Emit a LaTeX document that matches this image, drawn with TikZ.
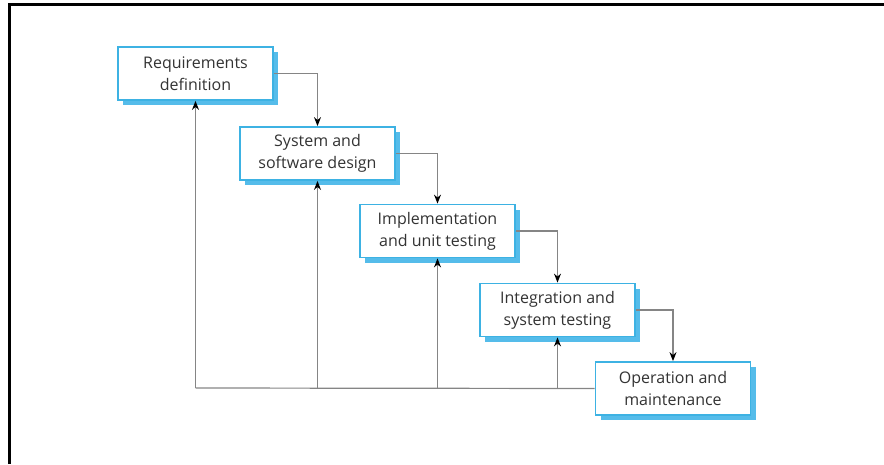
\documentclass[tikz,border=0pt]{standalone}
\usepackage{fontspec}
\setmainfont{Open Sans}
\usetikzlibrary{arrows.meta}
\usetikzlibrary{shadows}
\definecolor{phaseblue}{HTML}{3DB2E3}
\definecolor{shadeblue}{HTML}{55BCEA}
\definecolor{wiregray}{HTML}{858585}
\definecolor{textgray}{HTML}{333333}
\tikzstyle{phase}=[draw=phaseblue, line width=1.8pt, fill=white, align=center, text=textgray,
  minimum width=155pt, minimum height=53pt, font=\fontsize{16}{22}\selectfont,
  drop shadow={shadow xshift=5pt, shadow yshift=-5pt, fill=shadeblue, opacity=1}]
\tikzstyle{wire}=[draw=wiregray, line width=1.2pt]
\tikzstyle{flow}=[wire, -{Stealth[length=9pt, width=7pt, black]}]
\begin{document}
\begin{tikzpicture}[x=1pt, y=-1pt]
        \useasboundingbox (0, 0) rectangle (884, 464);
        \draw[line width=3pt] (9, 464) -- (9, 4.5) -- (884, 4.5);
        \node[phase] (req)   at (195.5, 73.5) {Requirements\\definition};
        \node[phase] (sys)   at (317.5, 153.5) {System and\\software design};
        \node[phase] (impl)  at (437.5, 231) {Implementation\\and unit testing};
        \node[phase] (integ) at (557.5, 310) {Integration and\\system testing};
        \node[phase] (oper)  at (673, 388.5) {Operation and\\maintenance};
        \coordinate (base) at (195.5, 388);
        \draw[flow] (req.east) -| (sys.north);
        \draw[flow] (sys.east) -| (impl.north);
        \draw[flow] (impl.east) -| (integ.north);
        \draw[flow] (integ.east) -| (oper.north);
        \draw[wire] (oper.west) -- (base);
        \draw[flow] (base) -- (req.south);
        \draw[flow] (base -| sys) -- (sys.south);
        \draw[flow] (base -| impl) -- (impl.south);
        \draw[flow] (base -| integ) -- (integ.south);
    \end{tikzpicture}
\end{document}
